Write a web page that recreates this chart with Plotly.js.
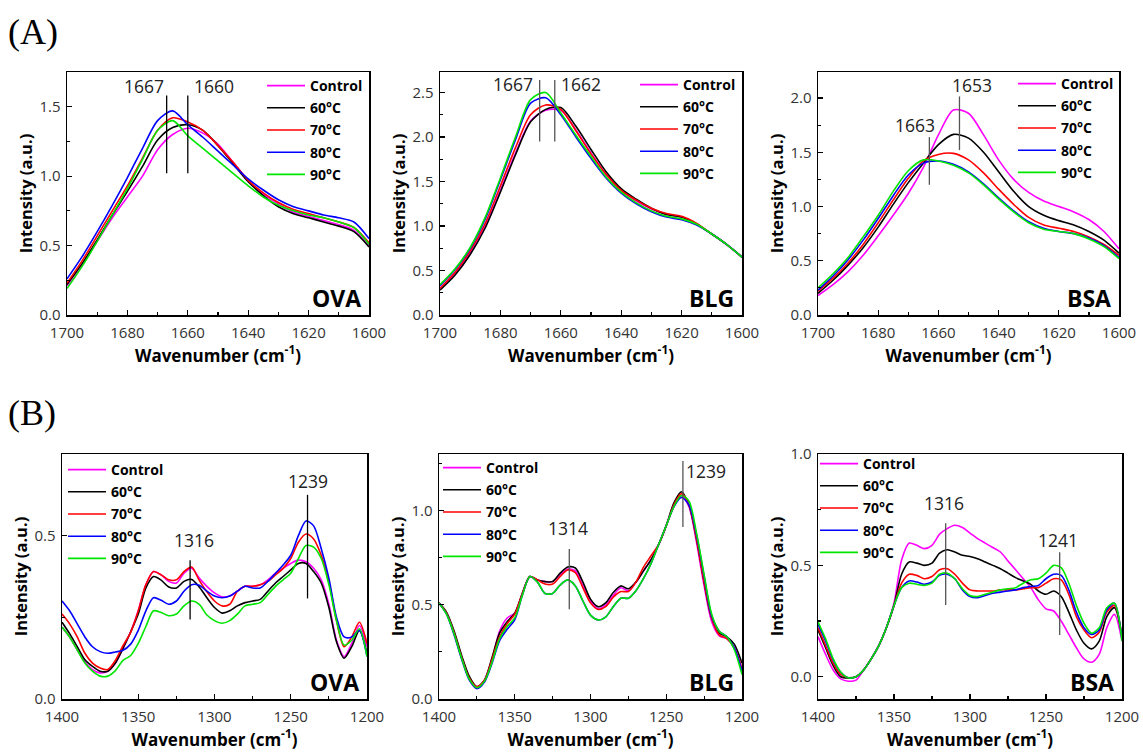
<!DOCTYPE html>
<html><head><meta charset="utf-8">
<script src="https://cdn.plot.ly/plotly-3.0.1.min.js"></script>
<style>html,body{margin:0;padding:0;background:#fff}#chart{width:1143px;height:755px}</style>
</head><body><div id="chart"></div>
<script>
// ---------- DATA ----------
const seriesNames = ['Control', '60°C', '70°C', '80°C', '90°C'];
const seriesColors = ['#ff00ff', '#000000', '#ff0000', '#0000ff', '#00e600'];

// Amide I region wavenumbers (cm-1)
const xAmideI = [1700,1695,1690,1685,1680,1675,1670,1665,1660,1655,1650,1645,1640,1635,1630,1625,1620,1615,1610,1605,1600];
// Amide III region wavenumbers (cm-1)
const xAmideIII = [1400,1395,1390,1385,1380,1375,1370,1365,1360,1355,1350,1345,1340,1335,1330,1325,1320,1315,1310,1305,1300,1295,1290,1285,1280,1275,1270,1265,1260,1255,1250,1245,1240,1235,1230,1225,1220,1215,1210,1205,1200];

// (A) OVA amide I
const ovaI_control = [.21,.36,.53,.70,.85,1.00,1.19,1.30,1.345,1.31,1.23,1.10,.97,.87,.80,.74,.71,.68,.65,.61,.50];
const ovaI_60 = [.22,.37,.54,.72,.89,1.07,1.26,1.35,1.37,1.33,1.22,1.09,.96,.86,.78,.73,.70,.67,.64,.60,.49];
const ovaI_70 = [.23,.39,.57,.75,.93,1.13,1.33,1.42,1.39,1.33,1.22,1.10,.97,.88,.81,.76,.73,.70,.67,.63,.52];
const ovaI_80 = [.26,.42,.60,.79,.99,1.20,1.40,1.47,1.37,1.28,1.18,1.08,.98,.90,.83,.78,.75,.72,.70,.67,.55];
const ovaI_90 = [.19,.35,.53,.72,.91,1.12,1.33,1.40,1.29,1.20,1.11,1.02,.93,.85,.79,.75,.72,.70,.67,.63,.51];
// (A) BLG amide I
const blgI_control = [.30,.47,.70,1.00,1.40,1.82,2.18,2.30,2.30,2.08,1.82,1.58,1.40,1.28,1.19,1.13,1.10,1.02,.91,.79,.65];
const blgI_60 = [.28,.45,.68,.98,1.38,1.80,2.17,2.31,2.33,2.12,1.86,1.61,1.42,1.30,1.20,1.13,1.10,1.02,.91,.79,.65];
const blgI_70 = [.30,.48,.72,1.03,1.45,1.88,2.25,2.36,2.31,2.07,1.81,1.58,1.40,1.29,1.20,1.14,1.11,1.03,.91,.79,.65];
const blgI_80 = [.33,.51,.75,1.08,1.52,1.97,2.38,2.44,2.25,2.00,1.76,1.54,1.37,1.25,1.16,1.10,1.07,1.01,.91,.79,.65];
const blgI_90 = [.34,.52,.76,1.10,1.54,2.00,2.42,2.50,2.27,2.02,1.78,1.55,1.38,1.26,1.17,1.11,1.08,1.02,.91,.79,.65];
// (A) BSA amide I
const bsaI_control = [.18,.28,.40,.55,.73,.92,1.12,1.36,1.66,1.89,1.86,1.66,1.43,1.25,1.13,1.05,1.00,.95,.88,.77,.61];
const bsaI_60 = [.20,.32,.46,.62,.81,1.02,1.22,1.40,1.57,1.665,1.63,1.50,1.32,1.14,1.00,.92,.87,.83,.77,.69,.57];
const bsaI_70 = [.22,.34,.48,.65,.85,1.06,1.26,1.42,1.48,1.49,1.43,1.31,1.16,1.02,.90,.83,.80,.77,.72,.65,.55];
const bsaI_80 = [.23,.36,.51,.69,.89,1.10,1.29,1.40,1.42,1.39,1.32,1.21,1.08,.96,.86,.80,.77,.75,.71,.64,.53];
const bsaI_90 = [.25,.38,.53,.72,.92,1.14,1.33,1.43,1.42,1.38,1.31,1.20,1.07,.95,.85,.79,.77,.75,.70,.63,.52];

// (B) OVA amide III
const ovaIII_control = [.22,.19,.15,.115,.09,.08,.085,.11,.155,.205,.27,.35,.39,.38,.36,.355,.385,.40,.37,.345,.325,.313,.315,.33,.345,.345,.35,.365,.385,.40,.415,.425,.42,.40,.365,.29,.18,.13,.17,.225,.16];
const ovaIII_60 = [.235,.20,.16,.12,.10,.085,.085,.11,.155,.205,.26,.34,.375,.364,.343,.34,.36,.366,.343,.31,.28,.263,.27,.285,.295,.30,.305,.33,.355,.375,.395,.415,.415,.39,.355,.28,.175,.125,.16,.21,.14];
const ovaIII_70 = [.26,.23,.19,.14,.11,.095,.09,.118,.163,.204,.27,.35,.39,.38,.365,.365,.39,.404,.363,.328,.30,.285,.29,.33,.345,.345,.35,.36,.38,.40,.43,.48,.505,.49,.44,.36,.24,.16,.19,.235,.17];
const ovaIII_80 = [.30,.27,.23,.19,.16,.145,.14,.144,.149,.168,.21,.27,.31,.302,.29,.30,.33,.35,.348,.33,.315,.31,.315,.33,.345,.34,.34,.36,.385,.41,.44,.50,.545,.53,.46,.37,.25,.19,.19,.21,.13];
const ovaIII_90 = [.22,.19,.15,.11,.085,.07,.07,.087,.118,.133,.17,.222,.27,.265,.255,.26,.285,.30,.29,.257,.24,.232,.24,.26,.285,.29,.295,.32,.345,.365,.385,.43,.47,.465,.43,.35,.24,.165,.18,.215,.13];
// (B) BLG amide III
const blgIII_control = [.51,.455,.35,.22,.11,.065,.10,.21,.36,.43,.455,.56,.65,.632,.623,.623,.66,.69,.68,.60,.52,.48,.50,.55,.59,.575,.62,.68,.74,.82,.92,1.02,1.08,1.02,.83,.60,.41,.335,.32,.27,.16];
const blgIII_60 = [.51,.46,.36,.23,.12,.065,.10,.22,.35,.41,.455,.56,.65,.632,.623,.623,.668,.70,.695,.62,.53,.49,.51,.565,.60,.585,.62,.68,.74,.82,.92,1.04,1.10,1.03,.85,.62,.43,.35,.33,.29,.19];
const blgIII_70 = [.51,.455,.35,.22,.11,.065,.10,.21,.33,.40,.45,.56,.65,.632,.61,.61,.65,.685,.67,.59,.51,.475,.49,.54,.57,.57,.62,.70,.76,.82,.92,1.03,1.09,1.03,.85,.62,.43,.34,.32,.27,.16];
const blgIII_80 = [.51,.45,.34,.21,.10,.055,.09,.19,.31,.37,.42,.55,.65,.62,.56,.56,.605,.632,.60,.52,.445,.42,.435,.49,.535,.535,.575,.64,.72,.82,.92,1.02,1.07,1.03,.87,.65,.44,.36,.33,.27,.15];
const blgIII_90 = [.51,.45,.345,.215,.105,.06,.095,.195,.32,.385,.43,.55,.65,.62,.56,.56,.605,.632,.60,.52,.445,.42,.435,.49,.535,.535,.575,.64,.72,.82,.92,1.02,1.08,1.05,.88,.66,.45,.36,.33,.26,.13];
// (B) BSA amide III
const bsaIII_control = [.18,.10,.03,-.01,-.02,-.015,.03,.08,.14,.22,.33,.524,.60,.59,.575,.59,.64,.665,.68,.67,.645,.62,.60,.58,.56,.52,.48,.44,.40,.345,.305,.295,.25,.19,.13,.08,.065,.10,.22,.28,.16];
const bsaIII_60 = [.21,.13,.05,.00,-.005,.00,.03,.08,.14,.22,.32,.46,.515,.51,.50,.51,.555,.57,.56,.545,.54,.53,.515,.50,.485,.465,.445,.43,.415,.385,.37,.385,.36,.29,.21,.15,.125,.16,.27,.31,.18];
const bsaIII_70 = [.22,.14,.06,.01,-.005,.00,.03,.08,.14,.22,.32,.42,.46,.455,.44,.45,.48,.485,.46,.42,.39,.385,.385,.385,.39,.39,.39,.395,.40,.40,.42,.44,.435,.37,.27,.21,.175,.20,.29,.32,.18];
const bsaIII_80 = [.235,.16,.075,.02,-.005,.00,.03,.08,.14,.22,.32,.40,.43,.425,.415,.425,.455,.46,.44,.39,.36,.355,.365,.375,.38,.385,.39,.40,.405,.41,.44,.46,.455,.39,.29,.22,.19,.21,.30,.33,.17];
const bsaIII_90 = [.247,.17,.08,.02,-.005,.00,.03,.08,.14,.22,.32,.40,.42,.415,.41,.42,.46,.465,.44,.395,.365,.36,.37,.38,.39,.395,.40,.42,.435,.44,.465,.50,.49,.42,.32,.24,.195,.22,.31,.33,.16];

// Peak marker labels (cm-1)
const peaksOvaI = [1667, 1660];
const peaksBlgI = [1667, 1662];
const peaksBsaI = [1663, 1653];
const peaksOvaIII = [1316, 1239];
const peaksBlgIII = [1314, 1239];
const peaksBsaIII = [1316, 1241];

const proteinNames = ['OVA', 'BLG', 'BSA'];

// ---------- LAYOUT ----------
const W = 1143, H = 755;
const fx = p => p / W;
const fy = p => 1 - p / H;
const FONT = '"Open Sans", Lato, sans-serif';

const panels = [
  {x: xAmideI, ys: [ovaI_control, ovaI_60, ovaI_70, ovaI_80, ovaI_90], name: proteinNames[0], peaks: peaksOvaI,
   xr: [1700, 1600], yr: [0, 1.75], xd: 20, yd: 0.5, col: [67, 369], row: [72, 315], leg: [262, 70],
   lines: [[1.02, 1.58], [1.02, 1.58]], labels: [{y: 1.65, xa: 'right', dx: -1}, {y: 1.65, xa: 'left', dx: 4}], lc: '#000'},
  {x: xAmideI, ys: [blgI_control, blgI_60, blgI_70, blgI_80, blgI_90], name: proteinNames[1], peaks: peaksBlgI,
   xr: [1700, 1600], yr: [0, 2.73], xd: 20, yd: 0.5, col: [440, 742], row: [72, 315], leg: [635, 69],
   lines: [[1.95, 2.64], [1.95, 2.64]], labels: [{y: 2.59, xa: 'right', dx: -5}, {y: 2.59, xa: 'left', dx: 4}], lc: '#555'},
  {x: xAmideI, ys: [bsaI_control, bsaI_60, bsaI_70, bsaI_80, bsaI_90], name: proteinNames[2], peaks: peaksBsaI,
   xr: [1700, 1600], yr: [0, 2.24], xd: 20, yd: 0.5, col: [818, 1119], row: [72, 315], leg: [1013, 68],
   lines: [[1.20, 1.64], [1.52, 2.015]], labels: [{y: 1.75, xa: 'center', dx: -14}, {y: 2.12, xa: 'center', dx: 13}], lc: '#555'},
  {x: xAmideIII, ys: [ovaIII_control, ovaIII_60, ovaIII_70, ovaIII_80, ovaIII_90], name: proteinNames[0], peaks: peaksOvaIII,
   xr: [1400, 1200], yr: [0, 0.75], xd: 50, yd: 0.5, col: [62, 367], row: [454, 699], leg: [63, 454],
   lines: [[0.243, 0.425], [0.308, 0.625]], labels: [{y: 0.487, xa: 'center', dx: 4}, {y: 0.666, xa: 'center', dx: 0}], lc: '#000'},
  {x: xAmideIII, ys: [blgIII_control, blgIII_60, blgIII_70, blgIII_80, blgIII_90], name: proteinNames[1], peaks: peaksBlgIII,
   xr: [1400, 1200], yr: [0, 1.3], xd: 50, yd: 0.5, col: [439, 742], row: [454, 699], leg: [438, 452],
   lines: [[0.476, 0.796], [0.913, 1.263]], labels: [{y: 0.909, xa: 'center', dx: -1}, {y: 1.209, xa: 'center', dx: 23}], lc: '#555'},
  {x: xAmideIII, ys: [bsaIII_control, bsaIII_60, bsaIII_70, bsaIII_80, bsaIII_90], name: proteinNames[2], peaks: peaksBsaIII,
   xr: [1400, 1200], yr: [-0.1, 1.0], xd: 50, yd: 0.5, col: [818, 1122], row: [454, 699], leg: [815, 448],
   lines: [[0.322, 0.689], [0.187, 0.559]], labels: [{y: 0.78, xa: 'center', dx: -2}, {y: 0.614, xa: 'center', dx: -2}], lc: '#555'}
];

const traces = [];
const layout = {
  width: W, height: H, margin: {l: 0, r: 0, t: 0, b: 0},
  paper_bgcolor: '#fff', plot_bgcolor: '#fff', showlegend: true,
  shapes: [], annotations: []
};

panels.forEach((p, i) => {
  const k = i + 1;
  const xs = k === 1 ? 'x' : 'x' + k;
  const ysr = k === 1 ? 'y' : 'y' + k;
  const legName = k === 1 ? 'legend' : 'legend' + k;
  p.ys.forEach((vals, s) => {
    traces.push({
      type: 'scatter', mode: 'lines', x: p.x, y: vals, name: seriesNames[s],
      xaxis: xs, yaxis: ysr, legend: legName, legendgroup: 'g' + k + '_' + s,
      line: {color: seriesColors[s], width: 1.6, shape: 'spline', smoothing: 0.8}
    });
  });
  layout['xaxis' + (k === 1 ? '' : k)] = {
    domain: [fx(p.col[0]), fx(p.col[1])], anchor: ysr, range: p.xr,
    showline: true, linecolor: '#000', linewidth: 1.5, mirror: true,
    ticks: 'inside', ticklen: 5, tickwidth: 1.2, tickcolor: '#000', dtick: p.xd, tick0: 0,
    ticklabelstandoff: 3,
    minor: {ticks: 'inside', ticklen: 3, tickcolor: '#000', dtick: p.xd / 2, showgrid: false},
    showgrid: false, zeroline: false,
    tickfont: {family: FONT, size: 15, color: '#333'},
    title: {text: '<b>Wavenumber (cm<sup>-1</sup>)</b>', font: {family: FONT, size: 17, color: '#000'}, standoff: 7}
  };
  layout['yaxis' + (k === 1 ? '' : k)] = {
    domain: [fy(p.row[1]), fy(p.row[0])], anchor: xs, range: p.yr,
    showline: true, linecolor: '#000', linewidth: 1.5, mirror: true,
    ticks: 'inside', ticklen: 5, tickwidth: 1.2, tickcolor: '#000', dtick: p.yd, tick0: 0, tickformat: '.1f',
    ticklabelstandoff: 2,
    minor: {ticks: 'inside', ticklen: 3, tickcolor: '#000', dtick: p.yd / 2, showgrid: false},
    showgrid: false, zeroline: false,
    tickfont: {family: FONT, size: 15, color: '#333'},
    title: {text: '<b>Intensity (a.u.)</b>', font: {family: FONT, size: 16.5, color: '#000'}, standoff: 2}
  };
  layout[legName] = {
    x: fx(p.leg[0]), y: fy(p.leg[1]), xanchor: 'left', yanchor: 'top',
    bgcolor: 'rgba(0,0,0,0)', borderwidth: 0, itemwidth: 38, tracegroupgap: 1,
    font: {family: FONT, size: 14, color: '#000', weight: 'bold'}
  };
  // peak marker lines + labels
  p.peaks.forEach((pk, j) => {
    layout.shapes.push({type: 'line', xref: xs, yref: ysr, x0: pk, x1: pk,
      y0: p.lines[j][0], y1: p.lines[j][1], line: {color: p.lc, width: 1.3}});
    const lb = p.labels[j];
    layout.annotations.push({xref: xs, yref: ysr, x: pk, y: lb.y, text: String(pk), showarrow: false,
      xanchor: lb.xa, yanchor: 'middle', xshift: lb.dx, font: {family: FONT, size: 17.5, color: '#222'}});
  });
  // protein label
  layout.annotations.push({xref: 'paper', yref: 'paper', x: fx(p.col[1] - 6), y: fy(p.row[1] - 17),
    text: '<b>' + p.name + '</b>', showarrow: false, xanchor: 'right', yanchor: 'middle',
    font: {family: FONT, size: 23, color: '#000'}});
});

layout.annotations.push({xref: 'paper', yref: 'paper', x: fx(6), y: fy(32), text: '(A)', showarrow: false,
  xanchor: 'left', yanchor: 'middle', font: {family: '"Liberation Serif", "Times New Roman", serif', size: 36, color: '#000'}});
layout.annotations.push({xref: 'paper', yref: 'paper', x: fx(6), y: fy(413), text: '(B)', showarrow: false,
  xanchor: 'left', yanchor: 'middle', font: {family: '"Liberation Serif", "Times New Roman", serif', size: 36, color: '#000'}});

Plotly.newPlot('chart', traces, layout, {staticPlot: true, displayModeBar: false});
</script>
</body></html>
